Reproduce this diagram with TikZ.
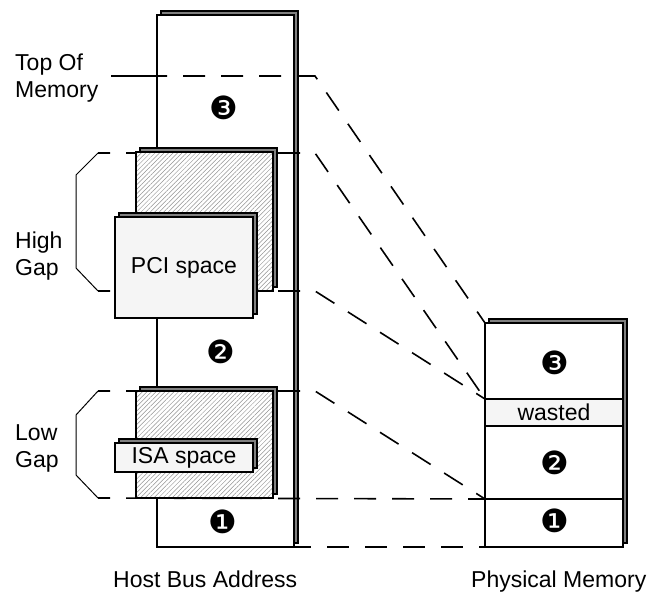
\documentclass[tikz,border=0pt]{standalone}
\usepackage{fontspec}
\setmainfont{Liberation Sans}
\newfontfamily\dingfont{DejaVu Sans}
\usetikzlibrary{shadows,patterns.meta}

\begin{document}
\begin{tikzpicture}[x=1pt,y=-1pt]
\tikzstyle{memory node}=[draw,line width=1.6pt,fill=white,anchor=north west,inner sep=0pt,outer sep=0pt]
\tikzstyle{shadowed node}=[memory node,general shadow={shadow xshift=4pt,shadow yshift=4pt,fill=gray,draw=black,line width=1.2pt}]
\tikzset{
	gap node/.style={shadowed node,preaction={fill=white},pattern={Lines[angle=45,distance=3.2pt,line width=0.5pt]},pattern color=gray!85},
	space node/.style={shadowed node,fill=gray!8,font=\fontsize{23}{27}\selectfont},
	num node/.style={font=\dingfont\fontsize{32}{32}\selectfont,inner sep=0pt},
	label node/.style={align=left,anchor=west,inner sep=0pt,font=\fontsize{23}{27}\selectfont},
	caption node/.style={anchor=base west,inner sep=0pt,font=\fontsize{23}{27}\selectfont},
	level line/.style={line width=1.6pt,dash pattern=on 22pt off 16pt,dash phase=10pt},
	bracket line/.style={line width=1pt}
}
\useasboundingbox (0,0) rectangle (647,593);
\node[shadowed node,minimum width=137pt,minimum height=532pt] (hba) at (157,15) {};
\node[shadowed node,minimum width=138pt,minimum height=224pt] (pm) at (485,323) {};
\node[memory node,fill=gray!8,minimum width=138pt,minimum height=27pt,font=\fontsize{23}{27}\selectfont] (wasted) at (485,399) {wasted};
\node[memory node,minimum width=138pt,minimum height=48pt] (pmlow) at (485,499) {};

\node[label node] (tom) at (15,78) {Top Of\\Memory};
\node[label node] (high) at (15,256) {High\\Gap};
\node[label node] (low) at (15,448) {Low\\Gap};

\coordinate (kink) at (315,0);
\coordinate (tomend) at (111,76);
\coordinate (hitop) at (98,153);
\coordinate (hibot) at (98,291);
\coordinate (lotop) at (98,391);
\coordinate (lobot) at (98,498);

\draw[line width=1.6pt] (tomend) -- (tomend -| hba.west);
\draw[level line,dash phase=12pt] (tomend -| hba.west) -- (tomend -| kink) -- (pm.north west);
\draw[level line] (hitop) -- (hitop -| kink) -- (wasted.north west);
\draw[level line] (hibot) -- (hibot -| kink) -- (wasted.north west);
\draw[level line] (lotop) -- (lotop -| kink) -- (pmlow.north west);
\draw[level line] (lobot) -- (pmlow.north west);
\draw[level line,dash phase=5pt] (hba.south east) -- (pm.south west);

\draw[bracket line] (hitop) -- ++(-22,22) -- (76,268) -- (hibot);
\draw[bracket line] (lotop) -- ++(-22,24) -- (76,475) -- (lobot);

\node[gap node,minimum width=137pt,minimum height=139pt] (higap) at (136,152) {};
\node[gap node,minimum width=137pt,minimum height=107pt] (logap) at (136,391) {};
\node[space node,minimum width=138pt,minimum height=101pt] (pci) at (115,217) {PCI space};
\node[space node,minimum width=138pt,minimum height=29pt] (isa) at (115,443) {ISA space};

\node[num node] (hba3) at (224,108) {❸};
\node[num node] (hba2) at (221,352) {❷};
\node[num node] (hba1) at (223,522) {❶};
\node[num node] (pm3) at (555,363) {❸};
\node[num node] (pm2) at (555,463) {❷};
\node[num node] (pm1) at (555,521) {❶};

\node[caption node] (hbacap) at (113,587) {Host Bus Address};
\node[caption node] (pmcap) at (471,587) {Physical Memory};
\end{tikzpicture}
\end{document}
